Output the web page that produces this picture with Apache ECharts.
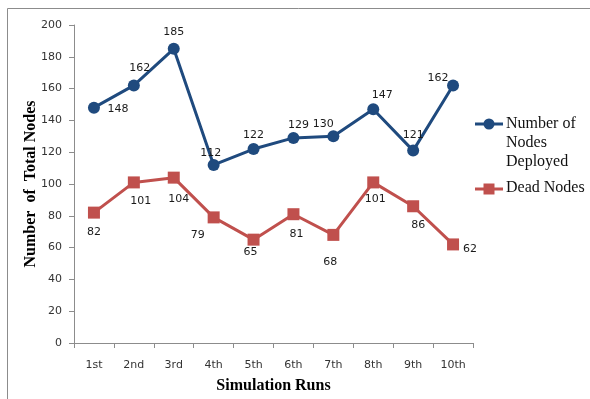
<!DOCTYPE html>
<html>
<head>
<meta charset="utf-8">
<style>
  html, body { margin: 0; padding: 0; background: #fff; }
  #chart { width: 590px; height: 399px; }
</style>
<script src="https://cdn.jsdelivr.net/npm/echarts@6/dist/echarts.min.js"></script>
</head>
<body>
<div id="chart"></div>
<script>
// Simulation runs and node counts
const runs = ['1st', '2nd', '3rd', '4th', '5th', '6th', '7th', '8th', '9th', '10th'];
const deployedNodes = [148, 162, 185, 112, 122, 129, 130, 147, 121, 162];
const deadNodes = [82, 101, 104, 79, 65, 81, 68, 101, 86, 62];
const yTicks = [0, 20, 40, 60, 80, 100, 120, 140, 160, 180, 200];

const BLUE = '#1F4A7E';
const RED = '#C0504D';
const labelFont = { fontFamily: 'DejaVu Sans', fontSize: 11, color: '#1a1a1a' };

// Per-point label placement offsets [dx, dy] relative to the point
const deployedLabelOffsets = [[24, 1], [6, -17], [0, -17], [-3, -12], [0, -14], [5, -13], [-10, -12], [9, -14], [0, -15], [-15, -7]];
const deadLabelOffsets = [[0, 20], [7, 19], [5, 22], [-16, 18], [-3, 12], [3, 20], [-3, 27], [2, 17], [5, 19], [17, 5]];

function withLabels(values, offsets) {
  return values.map((v, i) => ({
    value: v,
    label: { show: true, position: 'inside', offset: offsets[i], ...labelFont }
  }));
}

const chart = echarts.init(document.getElementById('chart'), null, { renderer: 'canvas' });

const legendTextStyle = { fontFamily: 'Liberation Serif', fontSize: 16, fill: '#111' };

chart.setOption({
  animation: false,
  backgroundColor: '#fff',
  grid: { left: 74, right: 117, top: 25, bottom: 56, containLabel: false },
  xAxis: {
    type: 'category',
    data: runs,
    boundaryGap: true,
    name: 'Simulation Runs',
    nameLocation: 'middle',
    nameGap: 35,
    nameMoveOverlap: false,
    nameTextStyle: { fontFamily: 'Liberation Serif', fontWeight: 'bold', fontSize: 16, color: '#000' },
    axisLine: { lineStyle: { color: '#8C8C8C' } },
    axisTick: { show: true, alignWithLabel: false, length: 5, lineStyle: { color: '#8C8C8C' } },
    axisLabel: { fontFamily: 'DejaVu Sans', fontSize: 11, color: '#333', margin: 17 },
    splitLine: { show: false }
  },
  yAxis: {
    type: 'value',
    min: yTicks[0],
    max: yTicks[yTicks.length - 1],
    interval: yTicks[1] - yTicks[0],
    name: 'Number  of  Total Nodes',
    nameLocation: 'middle',
    nameRotate: 90,
    nameGap: 35,
    nameMoveOverlap: false,
    nameTextStyle: { fontFamily: 'Liberation Serif', fontWeight: 'bold', fontSize: 16, color: '#000' },
    axisLine: { show: true, lineStyle: { color: '#8C8C8C' } },
    axisTick: { show: true, length: 5, lineStyle: { color: '#8C8C8C' } },
    axisLabel: { fontFamily: 'DejaVu Sans', fontSize: 11, color: '#333', margin: 12 },
    splitLine: { show: false }
  },
  series: [
    {
      name: 'Number of Nodes Deployed',
      type: 'line',
      data: withLabels(deployedNodes, deployedLabelOffsets),
      symbol: 'circle',
      symbolSize: 12,
      lineStyle: { color: BLUE, width: 3 },
      itemStyle: { color: BLUE },
      z: 3
    },
    {
      name: 'Dead Nodes',
      type: 'line',
      data: withLabels(deadNodes, deadLabelOffsets),
      symbol: 'rect',
      symbolSize: 12,
      lineStyle: { color: RED, width: 3 },
      itemStyle: { color: RED },
      z: 2
    }
  ],
  graphic: [
    // chart-area frame (top and left edges)
    { type: 'line', shape: { x1: 7.5, y1: 8.5, x2: 590, y2: 8.5 }, style: { stroke: '#8C8C8C', lineWidth: 1 } },
    { type: 'line', shape: { x1: 7.5, y1: 8.5, x2: 7.5, y2: 399 }, style: { stroke: '#8C8C8C', lineWidth: 1 } },
    // legend: deployed nodes
    { type: 'line', shape: { x1: 475, y1: 124, x2: 503, y2: 124 }, style: { stroke: BLUE, lineWidth: 3 } },
    { type: 'circle', shape: { cx: 489, cy: 124, r: 5.5 }, style: { fill: BLUE } },
    { type: 'text', left: 506, top: 114, style: { text: 'Number of\nNodes\nDeployed', lineHeight: 19, ...legendTextStyle } },
    // legend: dead nodes
    { type: 'line', shape: { x1: 475, y1: 189, x2: 503, y2: 189 }, style: { stroke: RED, lineWidth: 3 } },
    { type: 'rect', shape: { x: 483.5, y: 183.5, width: 11, height: 11 }, style: { fill: RED } },
    { type: 'text', left: 506, top: 180, style: { text: 'Dead Nodes', ...legendTextStyle } }
  ]
});
</script>
</body>
</html>
